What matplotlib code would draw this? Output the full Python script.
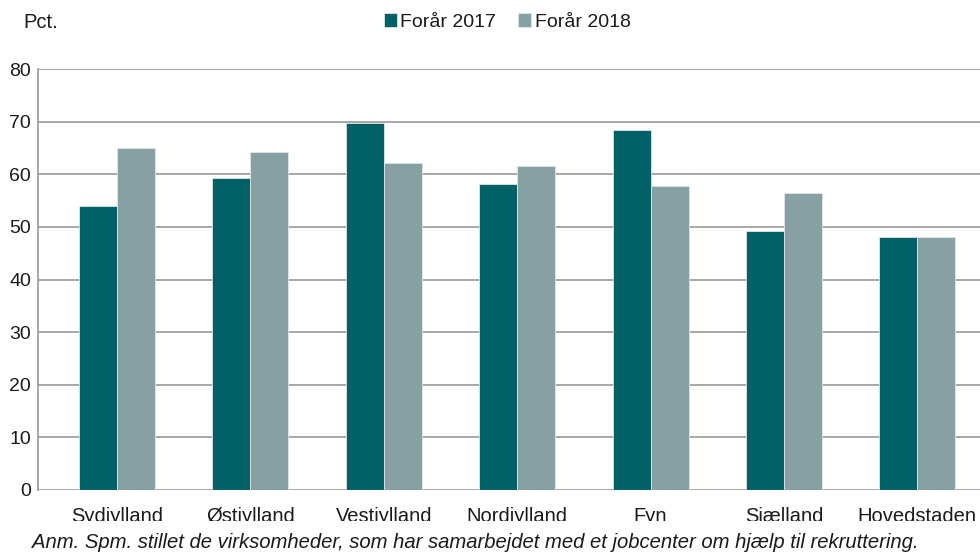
import matplotlib.pyplot as plt
import matplotlib.patches as mpatches
import numpy as np

plt.rcParams['font.family'] = ['Liberation Sans', 'DejaVu Sans']

# Data
regions = ["Sydjylland", "Østjylland", "Vestjylland", "Nordjylland", "Fyn", "Sjælland", "Hovedstaden"]
spring_2017 = [54.0, 59.3, 69.8, 58.1, 68.4, 49.2, 48.0]
spring_2018 = [64.9, 64.2, 62.1, 61.6, 57.7, 56.4, 48.0]
yticks = [0, 10, 20, 30, 40, 50, 60, 70, 80]

c17 = "#016166"
c18 = "#87a0a4"
txt = "#1a1a1a"

fig = plt.figure(figsize=(9.8, 5.52), dpi=100)
ax = fig.add_axes([38 / 980, 1 - 490 / 552, 1 - 38 / 980, (490 - 69) / 552])

x = np.arange(len(regions))
w = 0.285
ax.bar(x - w / 2, spring_2017, w, color=c17, edgecolor="#dfe6e7", linewidth=0.6,
       label="Forår 2017", zorder=3)
ax.bar(x + w / 2, spring_2018, w, color=c18, edgecolor="#dfe6e7", linewidth=0.6,
       label="Forår 2018", zorder=3)

ax.set_ylim(0, 80)
ax.set_xlim(-0.593, 6.47)
ax.set_yticks(yticks)
ax.set_xticks(x)
ax.set_xticklabels(regions)
ax.yaxis.grid(True, color="#a0a0a0", linewidth=1.3)
ax.set_axisbelow(True)
for s in ["top", "right", "bottom"]:
    ax.spines[s].set_visible(False)
ax.spines["left"].set_color("#a0a0a0")
ax.spines["left"].set_linewidth(1.3)
ax.tick_params(axis="y", length=0, labelsize=14, colors=txt, pad=5)
ax.tick_params(axis="x", length=0, labelsize=14.5, colors=txt, pad=12)

fig.text(23 / 980, 1 - 23 / 552, "Pct.", fontsize=14.5, va="center", color=txt)
leg = ax.legend(loc="center", bbox_to_anchor=(507 / 980, 1 - 22 / 552), bbox_transform=fig.transFigure,
                ncol=2, frameon=False, fontsize=14, handlelength=0.67, handleheight=0.67,
                handletextpad=0.2, columnspacing=1.1, borderpad=0)
for t in leg.get_texts():
    t.set_color(txt)

# cover the bottom of the category labels like in the original
fig.add_artist(mpatches.Rectangle((0, 0), 1, 31 / 552, transform=fig.transFigure,
                                  facecolor="white", edgecolor="none", zorder=5))
fig.text(32 / 980, 1 - 548 / 552,
         "Anm. Spm. stillet de virksomheder, som har samarbejdet med et jobcenter om hjælp til rekruttering.",
         fontsize=14.6, style="italic", va="baseline", color=txt, zorder=6)

fig.savefig("out.png", dpi=100)
